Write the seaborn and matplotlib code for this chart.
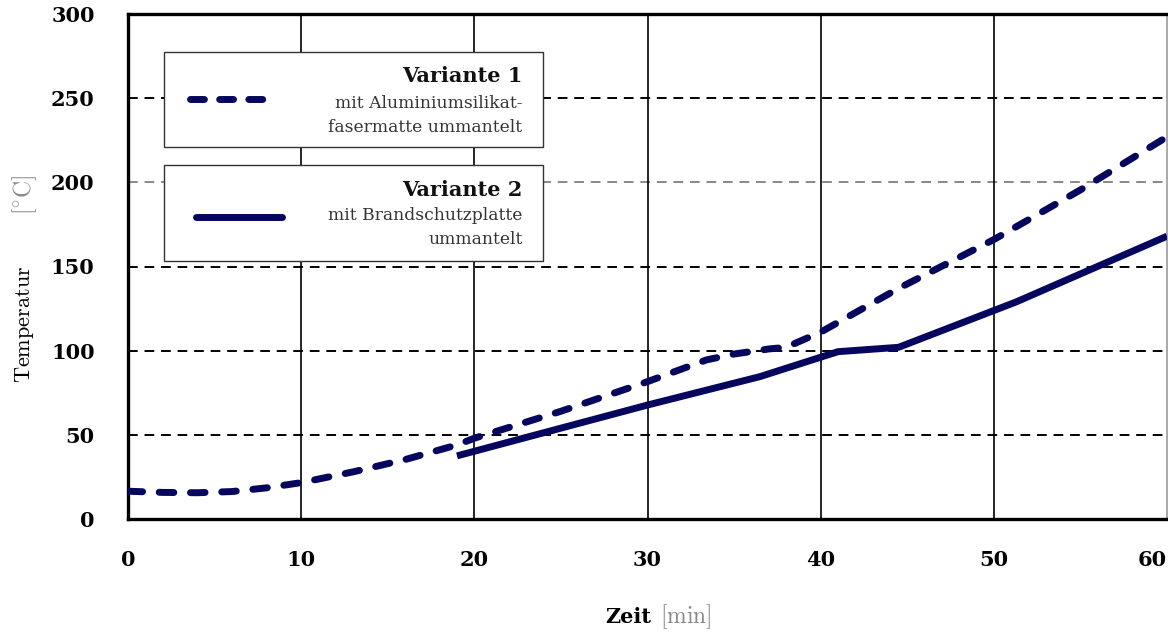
import matplotlib
matplotlib.use("Agg")
import matplotlib.pyplot as plt
from matplotlib.patches import Rectangle
from matplotlib.lines import Line2D
import seaborn as sns

zeit_v1 = [0, 2, 4, 6, 8, 10, 13, 16, 19, 20, 25, 30, 33.4, 35, 37, 38, 40, 44.5, 50, 55, 60]
temp_v1 = [16.5, 15.8, 15.6, 16.3, 18.5, 21.6, 28, 35.3, 44, 48, 64, 81.6, 94.5, 98, 101, 102, 111, 137, 166, 195.5, 227]

zeit_v2 = [19, 30, 36.5, 41, 44.5, 51.3, 57.1, 60]
temp_v2 = [37.5, 67.7, 84.6, 99.4, 102, 129, 155, 168]

x_ticks = [0, 10, 20, 30, 40, 50, 60]
y_ticks = [0, 50, 100, 150, 200, 250, 300]

NAVY = "#06065e"

sns.set_style("white")
plt.rcParams["mathtext.fontset"] = "cm"
plt.rcParams["font.family"] = ["DejaVu Serif", "DejaVu Sans"]

fig = plt.figure(figsize=(11.68, 6.32), dpi=100)
ax = fig.add_axes([128 / 1168, 1 - 519 / 632, 1039 / 1168, 505 / 632])

# Gitter
for yv in y_ticks[1:-1]:
    ax.axhline(yv, color="#888888" if yv == 200 else "black", lw=1.4,
               linestyle=(0, (5, 3.5)), zorder=1)
for xv in x_ticks[1:-1]:
    ax.axvline(xv, color="black", lw=1.2, zorder=1)

dash = (0, (2.1, 2.4))
sns.lineplot(x=zeit_v1, y=temp_v1, ax=ax, color=NAVY, lw=5, linestyle=dash,
             dash_capstyle="round", sort=False, zorder=3)
sns.lineplot(x=zeit_v2, y=temp_v2, ax=ax, color=NAVY, lw=5,
             solid_capstyle="butt", sort=False, zorder=3)

ax.set_xlim(0, 60)
ax.set_ylim(0, 300)
ax.set_xticks(x_ticks)
ax.set_yticks(y_ticks)
ax.set_xticklabels([str(v) for v in x_ticks], fontsize=15, fontweight="bold")
ax.set_yticklabels([str(v) for v in y_ticks], fontsize=15, fontweight="bold")
ax.get_xticklabels()[-1].set_horizontalalignment("right")
ax.tick_params(axis="x", direction="out", length=6, width=1.2, pad=16,
               color="black", labelcolor="black")
ax.tick_params(axis="y", length=0, pad=24, labelcolor="black")
ax.set_xlabel("")
ax.set_ylabel("")

for side in ["left", "bottom", "top"]:
    ax.spines[side].set_linewidth(2.4)
    ax.spines[side].set_color("black")
ax.spines["right"].set_linewidth(1.2)
ax.spines["right"].set_color("#999999")

# Legende (zwei Kästen)
def px(x, y):
    return (x - 128) / 1040, (519 - y) / 505

def legend_box(top, bottom, line_x0, line_x1, line_y, style, title, sub, ys):
    x0, y0 = px(164, bottom)
    x1, y1 = px(543, top)
    ax.add_patch(Rectangle((x0, y0), x1 - x0, y1 - y0, transform=ax.transAxes,
                           facecolor="white", edgecolor="#333333", lw=1.0, zorder=5))
    lx0, ly = px(line_x0, line_y)
    lx1, _ = px(line_x1, line_y)
    ax.add_line(Line2D([lx0, lx1], [ly, ly], transform=ax.transAxes, color=NAVY,
                       lw=5, linestyle=style, dash_capstyle="round",
                       solid_capstyle="round", zorder=6))
    tx, ty = px(523, ys[0])
    ax.text(tx, ty, title, transform=ax.transAxes, ha="right", va="center",
            fontsize=15, fontweight="bold", color="#111111", zorder=6)
    for s, yy in zip(sub, ys[1:]):
        tx, ty = px(523, yy)
        ax.text(tx, ty, s, transform=ax.transAxes, ha="right", va="center",
                fontsize=12.3, color="#333333", zorder=6)

legend_box(52, 147, 190, 264, 99, (0, (2.0, 2.2)), "Variante 1",
           ["mit Aluminiumsilikat-", "fasermatte ummantelt"], [76, 104, 127])
legend_box(165, 261, 196, 282, 217, "-", "Variante 2",
           ["mit Brandschutzplatte", "ummantelt"], [190, 216, 239])

# Achsenbeschriftungen
fig.text(0.0214, 1 - 383 / 632, r"$\mathrm{Temperatur}$", rotation=90,
         ha="center", va="bottom", fontsize=16, color="black")
fig.text(0.0214, 1 - 215 / 632, r"$[^{\circ}\mathrm{C}]$", rotation=90,
         ha="center", va="bottom", fontsize=17, color="#888888")
fig.text(651 / 1168, 1 - 617 / 632, "Zeit", ha="right", va="center",
         fontsize=15, fontweight="bold", color="black")
fig.text(660 / 1168, 1 - 617 / 632, r"$[\mathrm{min}]$", ha="left", va="center",
         fontsize=17, color="#888888")

fig.savefig("out.png", dpi=100)
